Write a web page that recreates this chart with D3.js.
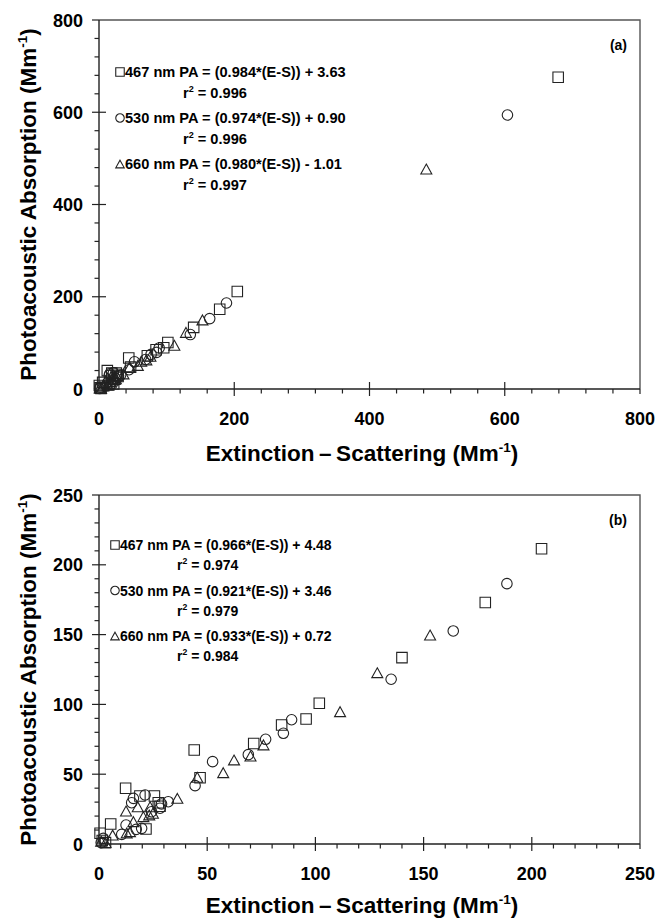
<!DOCTYPE html>
<html>
<head>
<meta charset="utf-8">
<script src="https://cdn.jsdelivr.net/npm/d3@7"></script>
<style>
  html, body { margin: 0; padding: 0; background: #fff; }
  svg { display: block; font-family: "Liberation Sans", Arial, sans-serif; font-weight: bold; }
</style>
</head>
<body>
<svg id="chart" width="659" height="920"></svg>
<script>
// Extinction minus scattering (x) vs photoacoustic absorption (y), Mm^-1
const sq467 = [[0.5,7.7],[1.5,2.5],[3,1],[5.4,14.3],[12.3,39.9],[18.9,34.4],[21.7,10.7],[25.6,34.4],[27.4,29.6],[28.2,27],[44,67.3],[46.7,47.5],[71.5,72],[84.4,85.2],[95.7,89.5],[101.8,100.8],[140,133.5],[178.5,173],[204.5,211.5]];
const circ530 = [[1,1],[2,4],[10.5,6.9],[12.5,13.6],[15.1,29.6],[15.9,32.7],[17.2,10.5],[19.7,11.2],[21.3,35.1],[24.3,23.1],[28.2,25.6],[28.9,28.7],[32,30.3],[44.4,41.8],[52.5,59],[69,64],[77,75],[85.2,79.3],[89,89],[135,118],[163.7,152.6],[188.5,186.5]];
const tri660 = [[1,2],[3,1],[6.3,6.4],[12.8,7.9],[14.3,8.8],[15.9,16],[12.5,23.6],[17.9,26.7],[20.5,19.6],[23.2,20.8],[24.9,22],[23.6,26.7],[36.2,32.7],[45.4,47.8],[57.4,51.1],[62.4,60.2],[70,63],[76,71],[111.4,94.8],[128.6,122.7],[153,149.7]];
// high-loading points shown only on the full-range panel
const sq467High = [[679,676]];
const circ530High = [[604,594]];
const tri660High = [[484,477]];

const ticksA = [0,200,400,600,800];
const ticksB = [0,50,100,150,200,250];

const legendA = [
  ["sq",  "467 nm PA = (0.984*(E-S)) + 3.63", "0.996"],
  ["circ","530 nm PA = (0.974*(E-S)) + 0.90", "0.996"],
  ["tri", "660 nm PA = (0.980*(E-S)) - 1.01", "0.997"]
];
const legendB = [
  ["sq",  "467 nm PA = (0.966*(E-S)) + 4.48", "0.974"],
  ["circ","530 nm PA = (0.921*(E-S)) + 3.46", "0.979"],
  ["tri", "660 nm PA = (0.933*(E-S)) + 0.72", "0.984"]
];

const svg = d3.select("#chart");
const ink = "#222";

function shapePath(kind, s) {
  const h = s / 2;
  if (kind === "sq") return `M${-h},${-h}H${h}V${h}H${-h}Z`;
  if (kind === "circ") return `M${h},0A${h},${h} 0 1,1 ${-h},0A${h},${h} 0 1,1 ${h},0Z`;
  const th = s * 0.9 / 2;
  return `M0,${-th}L${h},${th}L${-h},${th}Z`;
}

function panel(cfg) {
  const x = d3.scaleLinear().domain([0, cfg.max]).range([99, 640]);
  const y = d3.scaleLinear().domain([0, cfg.max]).range([cfg.y0, cfg.y1]);
  const g = svg.append("g");

  // frame: top and right
  g.append("path")
    .attr("d", `M${x(0)},${y(cfg.max)}H${x(cfg.max)}V${y(0)}`)
    .attr("fill", "none").attr("stroke", "#555").attr("stroke-width", 1.4);

  // minor ticks, outward
  const minors = d3.range(0, cfg.max + 1e-9, cfg.minor).filter(v => !cfg.ticks.includes(v));
  g.selectAll(".mx").data(minors).join("line")
    .attr("x1", d => x(d)).attr("x2", d => x(d))
    .attr("y1", y(0)).attr("y2", y(0) + 4.5)
    .attr("stroke", ink).attr("stroke-width", 1.2);
  g.selectAll(".my").data(minors).join("line")
    .attr("y1", d => y(d)).attr("y2", d => y(d))
    .attr("x1", x(0) - 4.5).attr("x2", x(0))
    .attr("stroke", ink).attr("stroke-width", 1.2);

  // major ticks crossing the axes (inner ones)
  const inner = cfg.ticks.filter(d => d !== 0 && d !== cfg.max);
  g.selectAll(".Mx").data(inner).join("line")
    .attr("x1", d => x(d)).attr("x2", d => x(d))
    .attr("y1", y(0) - 7).attr("y2", y(0) + 7)
    .attr("stroke", ink).attr("stroke-width", 1.2);
  g.selectAll(".My").data(inner).join("line")
    .attr("y1", d => y(d)).attr("y2", d => y(d))
    .attr("x1", x(0) - 7).attr("x2", x(0) + 7)
    .attr("stroke", ink).attr("stroke-width", 1.2);
  // end ticks, outward only
  g.append("line").attr("x1", x(cfg.max)).attr("x2", x(cfg.max)).attr("y1", y(0)).attr("y2", y(0) + 5).attr("stroke", ink).attr("stroke-width", 1.2);
  g.append("line").attr("x1", x(0) - 7).attr("x2", x(0)).attr("y1", y(cfg.max)).attr("y2", y(cfg.max)).attr("stroke", ink).attr("stroke-width", 1.2);

  // axes
  g.append("path")
    .attr("d", `M${x(0)},${y(cfg.max)}V${y(0)}H${x(cfg.max)}`)
    .attr("fill", "none").attr("stroke", ink).attr("stroke-width", 1.4);

  // tick labels
  g.selectAll(".lx").data(cfg.ticks).join("text")
    .attr("x", d => x(d)).attr("y", y(0) + 36)
    .attr("text-anchor", "middle").attr("font-size", 18).text(d => d);
  g.selectAll(".ly").data(cfg.ticks).join("text")
    .attr("x", 83).attr("y", d => y(d) + 6.5)
    .attr("text-anchor", "end").attr("font-size", 18).text(d => d);

  // axis titles
  const xt = g.append("text").attr("x", 362).attr("y", y(0) + cfg.titleOff)
    .attr("text-anchor", "middle").attr("font-size", 22.5);
  xt.append("tspan").text("Extinction\u2009\u2013\u2009Scattering (Mm");
  xt.append("tspan").attr("font-size", 13.5).attr("dy", -9).text("-1");
  xt.append("tspan").attr("dy", 9).text(")");

  const cy = (y(0) + y(cfg.max)) / 2;
  const yt = g.append("text").attr("transform", `translate(36,${cy}) rotate(-90)`)
    .attr("text-anchor", "middle").attr("font-size", 22.5);
  yt.append("tspan").text("Photoacoustic Absorption (Mm");
  yt.append("tspan").attr("font-size", 13.5).attr("dy", -9).text("-1");
  yt.append("tspan").attr("dy", 9).text(")");

  // panel tag
  g.append("text").attr("x", 627).attr("y", y(cfg.max) + 30)
    .attr("text-anchor", "end").attr("font-size", 14).text(cfg.tag);

  // legend
  cfg.legend.forEach((row, i) => {
    const ly = cfg.legY + i * cfg.legStep;
    g.append("path").attr("transform", `translate(${cfg.legX - 5},${ly - 5})`)
      .attr("d", shapePath(row[0], 8.5))
      .attr("fill", "none").attr("stroke", ink).attr("stroke-width", 1.1);
    g.append("text").attr("x", cfg.legX).attr("y", ly)
      .attr("font-size", cfg.legFont).text(row[1]);
    const r2 = g.append("text").attr("x", cfg.r2X).attr("y", ly + cfg.r2Gap)
      .attr("font-size", cfg.legFont);
    r2.append("tspan").text("r");
    r2.append("tspan").attr("font-size", cfg.legFont * 0.62).attr("dy", -6).text("2");
    r2.append("tspan").attr("dy", 6).text(" = " + row[2]);
  });

  // markers
  const series = [["sq", cfg.sq], ["circ", cfg.circ], ["tri", cfg.tri]];
  series.forEach(([kind, data]) => {
    g.selectAll(null).data(data).join("path")
      .attr("transform", d => `translate(${x(d[0])},${y(d[1])})`)
      .attr("d", shapePath(kind, kind === "tri" ? 11 : 10.5))
      .attr("fill", "none").attr("stroke", ink).attr("stroke-width", 1.1);
  });
}

panel({
  max: 800, y0: 389, y1: 20, ticks: ticksA, minor: 40, tag: "(a)", titleOff: 72,
  legend: legendA, legX: 125, legY: 77, legStep: 46, r2X: 183, r2Gap: 20.5, legFont: 14.6,
  sq: sq467.concat(sq467High), circ: circ530.concat(circ530High), tri: tri660.concat(tri660High)
});
panel({
  max: 250, y0: 844, y1: 495, ticks: ticksB, minor: 10, tag: "(b)", titleOff: 69,
  legend: legendB, legX: 120, legY: 550, legStep: 45.5, r2X: 177, r2Gap: 20, legFont: 14,
  sq: sq467, circ: circ530, tri: tri660
});
</script>
</body>
</html>
